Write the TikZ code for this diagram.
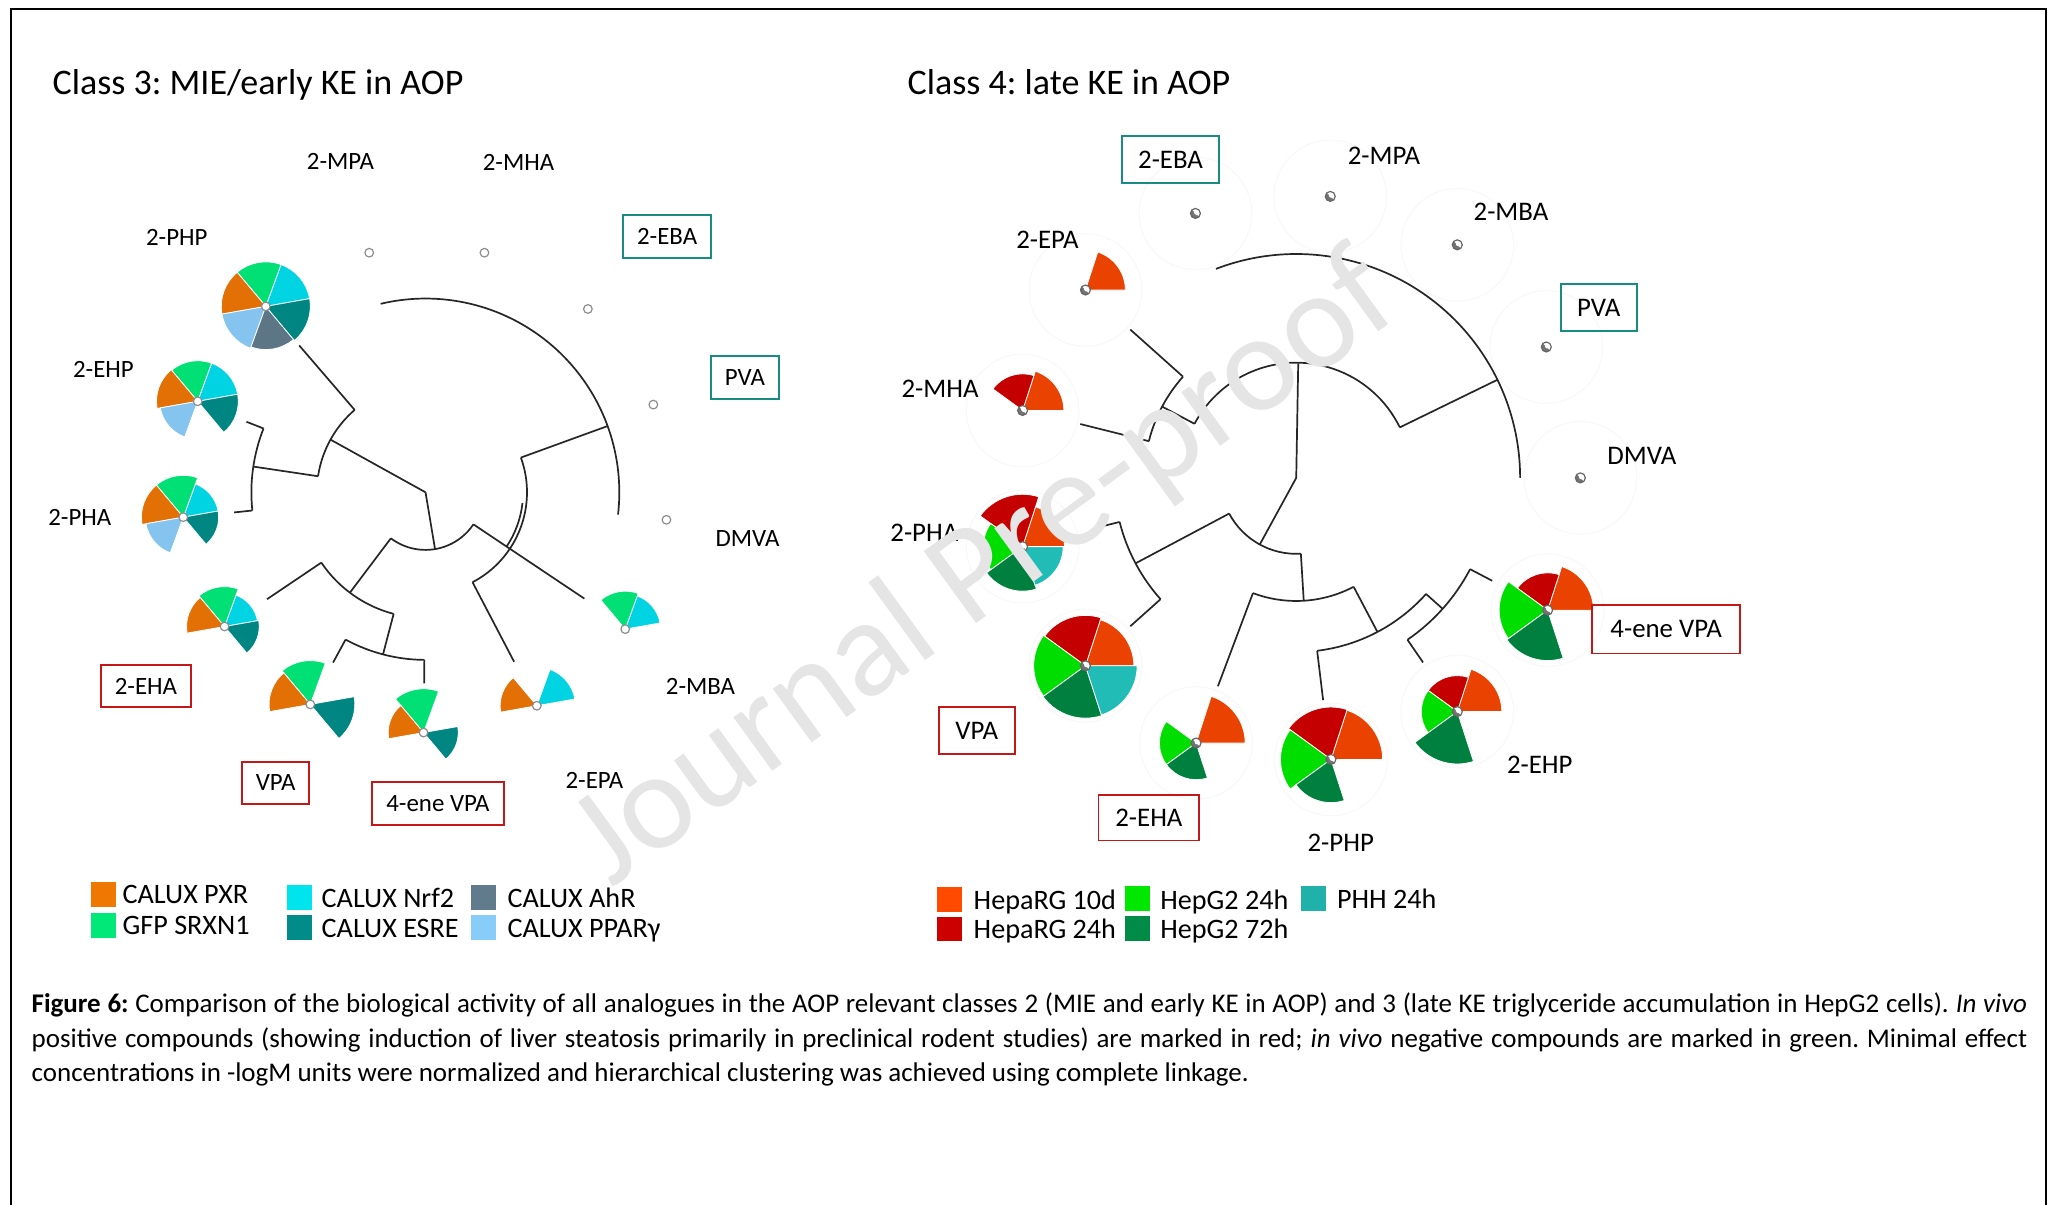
\documentclass[tikz,border=0pt]{standalone}
\usepackage{fontspec}
\setmainfont{Carlito}
\usetikzlibrary{calc}
\frenchspacing
% left pie colours
\definecolor{cpxr}{RGB}{226,112,4}
\definecolor{csrx}{RGB}{0,224,116}
\definecolor{cnrf}{RGB}{0,212,226}
\definecolor{cesre}{RGB}{0,134,130}
\definecolor{cahr}{RGB}{92,118,134}
\definecolor{cppar}{RGB}{132,196,238}
% right pie colours
\definecolor{h10}{RGB}{234,66,0}
\definecolor{h24}{RGB}{196,0,0}
\definecolor{g24}{RGB}{0,222,0}
\definecolor{g72}{RGB}{0,128,62}
\definecolor{phh}{RGB}{34,188,182}
% legend colours
\definecolor{lpxr}{RGB}{238,120,0}
\definecolor{lsrx}{RGB}{0,232,120}
\definecolor{lnrf}{RGB}{0,228,238}
\definecolor{lesre}{RGB}{0,140,136}
\definecolor{lahr}{RGB}{96,124,140}
\definecolor{lppar}{RGB}{136,204,250}
\definecolor{lh10}{RGB}{255,74,0}
\definecolor{lh24}{RGB}{205,0,0}
\definecolor{lg24}{RGB}{0,232,0}
\definecolor{lg72}{RGB}{0,140,70}
\definecolor{lphh}{RGB}{32,178,170}
\definecolor{boxteal}{RGB}{22,140,130}
\definecolor{boxred}{RGB}{196,24,24}
\definecolor{wmark}{RGB}{229,229,229}
\definecolor{faint}{RGB}{248,248,248}

\newcommand\pslice[6]{\fill[#6, draw=white, line width=0.6pt] (#1,#2) -- +({-(#3)}:#5) arc[start angle={-(#3)}, end angle={-(#4)}, radius=#5] -- cycle;}
\newcommand\trad[3]{\draw[tree] ({-(#1)}:#2) -- ({-(#1)}:#3);}
\newcommand\tarc[3]{\draw[tree] ({-(#1)}:#3) arc[start angle={-(#1)}, end angle={-(#2)}, radius=#3];}
\newcommand\lmark[2]{\draw[black!45, line width=0.9pt, fill=white] (#1,#2) circle[radius=3.3];}
\newcommand\rmark[2]{\fill[white] (#1,#2) circle[radius=3.8];
  \fill[black!55] (#1,#2) -- +(-135:3.8) arc[start angle=-135, end angle=-315, radius=3.8] -- cycle;
  \fill[white] ({#1+0.8},{#2-0.8}) circle[radius=1.9];
  \draw[black!60, line width=0.9pt] (#1,#2) circle[radius=3.8];}

\begin{document}
\begin{tikzpicture}[x=1pt,y=-1pt,
  tree/.style={draw=black!85, line width=1.3pt},
  lbl/.style={inner sep=0pt, font=\fontsize{19}{22}\selectfont},
  rlbl/.style={inner sep=0pt, font=\fontsize{20.5}{24}\selectfont},
  tbox/.style={draw=boxteal, line width=1.3pt},
  rbox/.style={draw=boxred, line width=1.3pt},
  sq/.style={minimum size=19pt, inner sep=0pt, draw=none},
  legt/.style={anchor=base west, inner sep=0pt, font=\fontsize{21.5}{25}\selectfont},
  ttl/.style={anchor=base west, inner sep=0pt, font=\fontsize{27.5}{33}\selectfont}]
\useasboundingbox (0,0) rectangle (1568,920);
\fill[white] (0,0) rectangle (1568,920);
% frame
\draw[line width=1.6pt] (8.5,920) -- (8.5,7) -- (1562.5,7) -- (1562.5,920);

% titles
\node[ttl] (t3) at (40,72) {Class 3: MIE/early KE in AOP};
\node[ttl] (t4) at (693,72) {Class 4: late KE in AOP};

% faint circles right panel
\foreach \p in {(1016,150),(1113,187),(1181,265),(1207,365),(1182,466),(1113,543.5),(1016.5,580),(913.5,567.5),(829,508.5),(781,417.5),(781,313.5),(829,221.5),(913,163)}
  \draw[faint, line width=0.8pt] \p circle[radius=43];

% ---------- left tree ----------
\begin{scope}[shift={(325,376)}]
\trad{151}{0}{83}
\trad{-80.5}{0}{44}
\tarc{130.7}{171.5}{83}
\trad{130.7}{83}{148}
\trad{171.5}{83}{133}
\tarc{158.5}{186}{133}
\trad{158.5}{133}{147}
\trad{186}{133}{147}
\tarc{-127}{-33.8}{44}
\trad{-127}{44}{96}
\tarc{-146}{-104.7}{96}
\trad{-146}{96}{146}
\trad{-104.7}{96}{128}
\tarc{-118.5}{-90.4}{128}
\trad{-118.5}{128}{148}
\trad{-90.4}{128}{146}
\trad{-33.8}{44}{146}
\tarc{-34}{-6.3}{74.5}
\tarc{-62.4}{20}{77.5}
\trad{-62.4}{77.5}{146}
\trad{20}{77.5}{148}
\tarc{-6.6}{103.4}{148}
\end{scope}

% ---------- right tree ----------
\begin{scope}[shift={(990,365)}]
\trad{89}{0}{87.5}
\trad{-118.7}{0}{58}
\tarc{26}{152}{88}
\trad{26}{88}{171}
\tarc{0}{111}{171}
\trad{152}{88}{116}
\tarc{138.2}{166}{116}
\trad{138.2}{116}{170}
\trad{166}{116}{170}
\tarc{-152}{-86.5}{58}
\trad{-152}{58}{139}
\tarc{-166}{-138.2}{139}
\trad{-166}{139}{158}
\trad{-138.2}{139}{170}
\trad{-86.5}{58}{94}
\tarc{-110.6}{-62.2}{94}
\trad{-110.6}{94}{170}
\trad{-62.2}{94}{133}
\tarc{-83.1}{-41.8}{133}
\trad{-83.1}{133}{171}
\trad{-41.8}{133}{150}
\tarc{-55.5}{-27.7}{150}
\trad{-55.5}{150}{171}
\trad{-27.7}{150}{169}
\end{scope}

% ---------- left pies ----------
% 2-PHP
\pslice{203}{234}{10}{70}{34}{cnrf}
\pslice{203}{234}{70}{130}{34}{csrx}
\pslice{203}{234}{130}{190}{34}{cpxr}
\pslice{203}{234}{190}{250}{34}{cppar}
\pslice{203}{234}{250}{310}{33}{cahr}
\pslice{203}{234}{310}{370}{34}{cesre}
\lmark{203}{234}
% 2-EHP
\pslice{151}{306.5}{10}{70}{31}{cnrf}
\pslice{151}{306.5}{70}{130}{31}{csrx}
\pslice{151}{306.5}{130}{190}{31.5}{cpxr}
\pslice{151}{306.5}{190}{250}{29}{cppar}
\pslice{151}{306.5}{310}{370}{31}{cesre}
\lmark{151}{306.5}
% 2-PHA
\pslice{140}{395}{10}{70}{27}{cnrf}
\pslice{140}{395}{70}{130}{32}{csrx}
\pslice{140}{395}{130}{190}{32}{cpxr}
\pslice{140}{395}{190}{250}{29}{cppar}
\pslice{140}{395}{310}{370}{27}{cesre}
\lmark{140}{395}
% 2-EHA
\pslice{171.5}{478.5}{10}{70}{25.5}{cnrf}
\pslice{171.5}{478.5}{70}{130}{30.5}{csrx}
\pslice{171.5}{478.5}{130}{190}{29}{cpxr}
\pslice{171.5}{478.5}{310}{370}{26.5}{cesre}
\lmark{171.5}{478.5}
% VPA
\pslice{237}{538}{70}{130}{33.5}{csrx}
\pslice{237}{538}{130}{190}{31.5}{cpxr}
\pslice{237}{538}{310}{370}{34}{cesre}
\lmark{237}{538}
% 4-ene VPA
\pslice{323.5}{559.5}{70}{130}{33.5}{csrx}
\pslice{323.5}{559.5}{130}{190}{27}{cpxr}
\pslice{323.5}{559.5}{310}{370}{26.5}{cesre}
\lmark{323.5}{559.5}
% 2-EPA
\pslice{410}{539}{10}{70}{29.5}{cnrf}
\pslice{410}{539}{130}{190}{28}{cpxr}
\lmark{410}{539}
% 2-MBA
\pslice{477.5}{480.5}{10}{70}{27}{cnrf}
\pslice{477.5}{480.5}{70}{130}{29}{csrx}
\lmark{477.5}{480.5}
% empty leaves
\lmark{282}{193}
\lmark{370}{193}
\lmark{449}{236}
\lmark{499}{309}
\lmark{509}{397}

% ---------- right pies ----------
% 2-EPA
\pslice{829}{221.5}{0}{72}{30.5}{h10}
\rmark{829}{221.5}
% 2-MHA
\pslice{781}{313.5}{0}{72}{31.5}{h10}
\pslice{781}{313.5}{72}{144}{28}{h24}
\rmark{781}{313.5}
% 2-PHA
\pslice{781}{417.5}{0}{72}{32}{h10}
\pslice{781}{417.5}{72}{144}{40}{h24}
\pslice{781}{417.5}{144}{216}{30}{g24}
\pslice{781}{417.5}{216}{288}{34}{g72}
\pslice{781}{417.5}{288}{360}{31}{phh}
\rmark{781}{417.5}
% VPA
\pslice{829}{508.5}{0}{72}{37}{h10}
\pslice{829}{508.5}{72}{144}{38.5}{h24}
\pslice{829}{508.5}{144}{216}{39.5}{g24}
\pslice{829}{508.5}{216}{288}{40}{g72}
\pslice{829}{508.5}{288}{360}{39.5}{phh}
\rmark{829}{508.5}
% 2-EHA
\pslice{913.5}{567.5}{0}{72}{37.5}{h10}
\pslice{913.5}{567.5}{144}{216}{28}{g24}
\pslice{913.5}{567.5}{216}{288}{28}{g72}
\rmark{913.5}{567.5}
% 2-PHP
\pslice{1016.5}{580}{0}{72}{39.5}{h10}
\pslice{1016.5}{580}{72}{144}{40}{h24}
\pslice{1016.5}{580}{144}{216}{38.5}{g24}
\pslice{1016.5}{580}{216}{288}{33}{g72}
\rmark{1016.5}{580}
% 2-EHP
\pslice{1113}{543.5}{0}{72}{34}{h10}
\pslice{1113}{543.5}{72}{144}{27.5}{h24}
\pslice{1113}{543.5}{144}{216}{27.5}{g24}
\pslice{1113}{543.5}{216}{288}{40}{g72}
\rmark{1113}{543.5}
% 4-ene VPA
\pslice{1182}{466}{0}{72}{35}{h10}
\pslice{1182}{466}{72}{144}{28.5}{h24}
\pslice{1182}{466}{144}{216}{37}{g24}
\pslice{1182}{466}{216}{288}{38.5}{g72}
\rmark{1182}{466}
% empty leaves
\rmark{913}{163}
\rmark{1016}{150}
\rmark{1113}{187}
\rmark{1181}{265}
\rmark{1207}{365}

% ---------- labels left ----------
\node[lbl] (lmpa) at (260,123) {2-MPA};
\node[lbl] (lmha) at (396,124) {2-MHA};
\node[lbl, tbox, minimum width=67pt, minimum height=33pt] (leba) at (509.5,180.5) {2-EBA};
\node[lbl, tbox, minimum width=52pt, minimum height=33pt] (lpva) at (569,288.5) {PVA};
\node[lbl] (ldmva) at (571,411) {DMVA};
\node[lbl] (lmba) at (535,524) {2-MBA};
\node[lbl] (lepa) at (454,596) {2-EPA};
\node[lbl, rbox, minimum width=101pt, minimum height=33pt] (lene) at (334.5,613.5) {4-ene VPA};
\node[lbl, rbox, minimum width=51pt, minimum height=32pt] (lvpa) at (210.5,598) {VPA};
\node[lbl, rbox, minimum width=69pt, minimum height=32pt] (leha) at (111.5,524) {2-EHA};
\node[lbl] (lpha) at (61,395) {2-PHA};
\node[lbl] (lehp) at (79,282) {2-EHP};
\node[lbl] (lphp) at (135,181) {2-PHP};

% ---------- labels right ----------
\node[rlbl, tbox, minimum width=74pt, minimum height=36pt] (reba) at (894,122) {2-EBA};
\node[rlbl] (rmpa) at (1057,119) {2-MPA};
\node[rlbl] (rmba) at (1154,162) {2-MBA};
\node[rlbl, tbox, minimum width=58pt, minimum height=36pt] (rpva) at (1221,235) {PVA};
\node[rlbl] (rdmva) at (1254,348) {DMVA};
\node[rlbl, rbox, minimum width=113pt, minimum height=37pt] (rene) at (1272.5,480.5) {4-ene VPA};
\node[rlbl] (rehp) at (1176,584) {2-EHP};
\node[rlbl] (rphp) at (1024,644) {2-PHP};
\node[rlbl, rbox, minimum width=77pt, minimum height=35pt] (reha) at (877.5,624.5) {2-EHA};
\node[rlbl, rbox, minimum width=58pt, minimum height=36pt] (rvpa) at (746,558) {VPA};
\node[rlbl] (rpha) at (706,407) {2-PHA};
\node[rlbl] (rmha) at (718,297) {2-MHA};
\node[rlbl] (repa) at (800,183) {2-EPA};

% ---------- legends ----------
\node[sq, fill=lpxr] (k1) at (79,683) {};
\node[legt] (k1t) at (93.5,690) {CALUX PXR};
\node[sq, fill=lsrx] (k2) at (79,707) {};
\node[legt] (k2t) at (93.5,714) {GFP SRXN1};
\node[sq, fill=lnrf] (k3) at (228.5,685.5) {};
\node[legt] (k3t) at (245.5,693) {CALUX Nrf2};
\node[sq, fill=lesre] (k4) at (228.5,708.5) {};
\node[legt] (k4t) at (245.5,716) {CALUX ESRE};
\node[sq, fill=lahr] (k5) at (369,685.5) {};
\node[legt] (k5t) at (387.5,693) {CALUX AhR};
\node[sq, fill=lppar] (k6) at (369,708.5) {};
\node[legt] (k6t) at (387.5,716) {CALUX PPARγ};

\node[sq, fill=lh10] (m1) at (725.5,687) {};
\node[legt] (m1t) at (743.5,694.5) {HepaRG 10d};
\node[sq, fill=lh24] (m2) at (725.5,709.5) {};
\node[legt] (m2t) at (743.5,717) {HepaRG 24h};
\node[sq, fill=lg24] (m3) at (868.5,686.5) {};
\node[legt] (m3t) at (886,694.5) {HepG2 24h};
\node[sq, fill=lg72] (m4) at (868.5,709) {};
\node[legt] (m4t) at (886,717) {HepG2 72h};
\node[sq, fill=lphh] (m5) at (1003,686) {};
\node[legt] (m5t) at (1021,694) {PHH 24h};

% ---------- caption ----------
\node[anchor=north west, inner sep=0pt, text width=1524pt, align=justify,
      font=\fontsize{20.6}{26.5}\selectfont] (cap) at (24,758)
  {\hyphenpenalty=10000\exhyphenpenalty=10000
   \textbf{Figure 6:} Comparison of the biological activity of all analogues in the AOP relevant classes 2 (MIE and early KE in AOP) and 3 (late KE triglyceride accumulation in HepG2 cells). \textit{In vivo}\linebreak positive compounds (showing induction of liver steatosis primarily in preclinical rodent studies) are marked in red; \textit{in vivo} negative compounds are marked in green. Minimal effect\linebreak concentrations in -logM units were normalized and hierarchical clustering was achieved using complete linkage.};

% ---------- watermark ----------
\node[rotate=36, inner sep=0pt, text=wmark, font=\fontsize{106}{126}\selectfont] (wm) at (753,436) {Journal Pre-proof};
\end{tikzpicture}
\end{document}
